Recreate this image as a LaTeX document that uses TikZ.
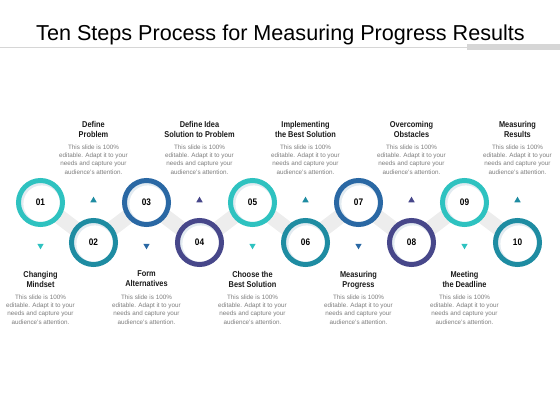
\documentclass[tikz,border=0pt]{standalone}
\usepackage{fontspec}
\setmainfont{Liberation Sans}
\newfontfamily\narrowfont[FakeStretch=0.87]{Liberation Sans}
\usetikzlibrary{shapes.geometric}
\pgfdeclarelayer{bg}
\pgfsetlayers{bg,main}
\definecolor{cturq}{HTML}{2EC2C0}
\definecolor{cteal}{HTML}{1E8CA2}
\definecolor{cblue}{HTML}{2A68A4}
\definecolor{cpurp}{HTML}{47478A}
\definecolor{bandgray}{HTML}{EDEDED}
\definecolor{bodygray}{HTML}{7C7C7C}
\definecolor{headblack}{HTML}{1A1A1A}
\definecolor{ringshade}{HTML}{E2EBF1}
\definecolor{rulegray}{HTML}{D6D6D6}
\begin{document}
\begin{tikzpicture}[x=1pt,y=-1pt,
  ring/.style={circle, draw=#1, line width=5pt, minimum size=44pt, inner sep=0pt,
    fill=white, text=black, font=\narrowfont\bfseries\fontsize{9.5}{11}\selectfont,
    path picture={
      \fill[ringshade] (path picture bounding box.center) circle (19.6pt);
      \fill[white] ([xshift=1.3pt,yshift=-1.3pt]path picture bounding box.center) circle (18.4pt);
    }},
  uptri/.style={regular polygon, regular polygon sides=3, minimum size=7.4pt,
    inner sep=0pt, fill=#1, draw=none},
  dntri/.style={uptri=#1, shape border rotate=180},
  head/.style={anchor=north, inner sep=0pt, align=center, text=headblack,
    font=\narrowfont\bfseries\fontsize{8.5}{10}\selectfont},
  body/.style={anchor=north, inner sep=0pt, align=center, text=bodygray,
    font=\fontsize{6.3}{8.3}\selectfont},
  band/.style={draw=bandgray, line width=15pt, line join=miter}
]
\useasboundingbox (0,0) rectangle (560,420);

% title and rule
\node[anchor=base, inner sep=0pt, font=\fontsize{21.6}{26}\selectfont] (title) at (280.5,41)
  {Ten Steps Process for Measuring Progress Results};
\draw[rulegray, line width=0.9pt] (0,47) -- (467,47);
\fill[rulegray] (467,44) rectangle (560,50);

% circles
\node[ring=cturq] (c1)  at (40.5,202.5) {01};
\node[ring=cteal] (c2)  at (93.5,242.5) {02};
\node[ring=cblue] (c3)  at (146.5,202.5) {03};
\node[ring=cpurp] (c4)  at (199.5,242.5) {04};
\node[ring=cturq] (c5)  at (252.5,202.5) {05};
\node[ring=cteal] (c6)  at (305.5,242.5) {06};
\node[ring=cblue] (c7)  at (358.5,202.5) {07};
\node[ring=cpurp] (c8)  at (411.5,242.5) {08};
\node[ring=cturq] (c9)  at (464.5,202.5) {09};
\node[ring=cteal] (c10) at (517.5,242.5) {10};

\begin{pgfonlayer}{bg}
\draw[band] (c1.center) -- (c2.center) -- (c3.center) -- (c4.center) -- (c5.center)
  -- (c6.center) -- (c7.center) -- (c8.center) -- (c9.center) -- (c10.center);
\end{pgfonlayer}

% triangles
\node[uptri=cteal] (u2)  at (93.5,200.4) {};
\node[uptri=cpurp] (u4)  at (199.5,200.4) {};
\node[uptri=cteal] (u6)  at (305.5,200.4) {};
\node[uptri=cpurp] (u8)  at (411.5,200.4) {};
\node[uptri=cteal] (u10) at (517.5,200.4) {};
\node[dntri=cturq] (d1)  at (40.5,245.6) {};
\node[dntri=cblue] (d3)  at (146.5,245.6) {};
\node[dntri=cturq] (d5)  at (252.5,245.6) {};
\node[dntri=cblue] (d7)  at (358.5,245.6) {};
\node[dntri=cturq] (d9)  at (464.5,245.6) {};

% top labels
\node[head] (h2)  at (93.5,120.8)  {Define\\Problem};
\node[head] (h4)  at (199.5,120.8) {Define Idea\\Solution to Problem};
\node[head] (h6)  at (305.5,120.8) {Implementing\\the Best Solution};
\node[head] (h8)  at (411.5,120.8) {Overcoming\\Obstacles};
\node[head] (h10) at (517.5,120.8) {Measuring\\Results};
\node[body] (b2)  at (93.5,144.4)  {This slide is 100\%\\editable. Adapt it to your\\needs and capture your\\audience's attention.};
\node[body] (b4)  at (199.5,144.4) {This slide is 100\%\\editable. Adapt it to your\\needs and capture your\\audience's attention.};
\node[body] (b6)  at (305.5,144.4) {This slide is 100\%\\editable. Adapt it to your\\needs and capture your\\audience's attention.};
\node[body] (b8)  at (411.5,144.4) {This slide is 100\%\\editable. Adapt it to your\\needs and capture your\\audience's attention.};
\node[body] (b10) at (517.5,144.4) {This slide is 100\%\\editable. Adapt it to your\\needs and capture your\\audience's attention.};

% bottom labels
\node[head] (h1)  at (40.5,270.8)  {Changing\\Mindset};
\node[head] (h3)  at (146.5,270.8) {Form\\Alternatives};
\node[head] (h5)  at (252.5,270.8) {Choose the\\Best Solution};
\node[head] (h7)  at (358.5,270.8) {Measuring\\Progress};
\node[head] (h9)  at (464.5,270.8) {Meeting\\the Deadline};
\node[body] (b1)  at (40.5,294.4)  {This slide is 100\%\\editable. Adapt it to your\\needs and capture your\\audience's attention.};
\node[body] (b3)  at (146.5,294.4) {This slide is 100\%\\editable. Adapt it to your\\needs and capture your\\audience's attention.};
\node[body] (b5)  at (252.5,294.4) {This slide is 100\%\\editable. Adapt it to your\\needs and capture your\\audience's attention.};
\node[body] (b7)  at (358.5,294.4) {This slide is 100\%\\editable. Adapt it to your\\needs and capture your\\audience's attention.};
\node[body] (b9)  at (464.5,294.4) {This slide is 100\%\\editable. Adapt it to your\\needs and capture your\\audience's attention.};
\end{tikzpicture}
\end{document}
